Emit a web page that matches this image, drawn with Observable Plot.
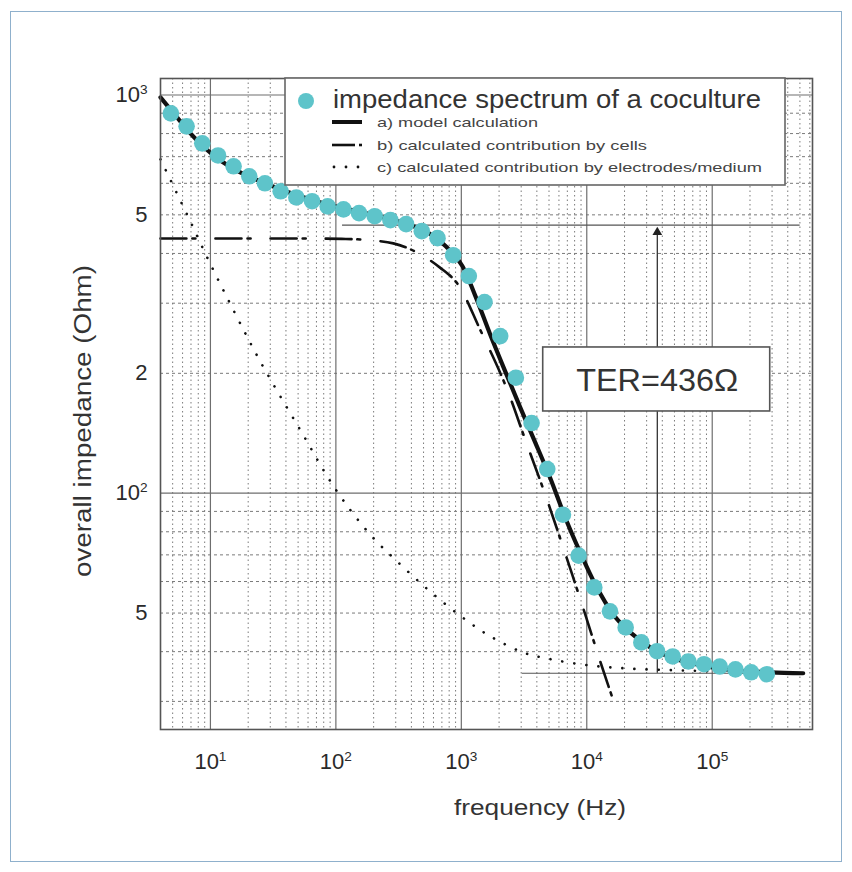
<!DOCTYPE html>
<html><head><meta charset="utf-8">
<script src="https://cdn.jsdelivr.net/npm/d3@7"></script>
<script src="https://cdn.jsdelivr.net/npm/@observablehq/plot@0.6"></script>
<style>
html,body{margin:0;padding:0;background:#fff;}
#wrap{position:relative;width:852px;height:872px;overflow:hidden;background:#fff;}
#chart{position:absolute;left:0;top:0;}
#border{position:absolute;left:10px;top:11px;width:830px;height:849px;border:1px solid #8fb0cc;pointer-events:none;}
</style></head><body>
<div id="wrap"><div id="chart"></div><div id="border"></div></div>
<script>
// measured impedance spectrum (cyan dots)
const measFreq = [4.84, 6.46, 8.61, 11.5, 15.3, 20.4, 27.2, 36.3, 48.4, 64.6, 86.1, 115, 153, 204, 272, 363, 484, 646, 861, 1148, 1531, 2042, 2723, 3631, 4842, 6457, 8610, 11480, 15310, 20420, 27230, 36310, 48420, 64570, 86100, 114800, 153100, 204200, 272300];
const measZ = [899, 834, 756, 705, 662, 625, 600, 573, 553, 541, 525, 516, 505, 496, 485, 474, 455, 437, 396, 351, 302, 248, 195, 150, 115, 88.3, 69.7, 58.0, 50.5, 46.0, 42.2, 40.1, 38.9, 37.8, 37.2, 36.7, 36.1, 35.5, 35.1];
// a) model calculation
const modelFreq = [4.0, 5.26, 6.93, 9.12, 12.0, 17.3, 25.0, 36.1, 52.1, 90.4, 157, 272, 392, 517, 680, 848, 1019, 1293, 1702, 2242, 2952, 3887, 5120, 6740, 8880, 11690, 16270, 22220, 32060, 46270, 80230, 147000, 290000, 531000];
const modelZ = [986, 889, 801, 734, 685, 639, 607, 580, 557, 529, 508, 488, 471, 455, 429, 401, 372, 313, 250, 202, 164, 134, 109, 86.8, 70.9, 59.0, 49.6, 44.7, 41.0, 38.7, 37.0, 35.9, 35.5, 35.3];
// b) contribution by cells
const cellFreq = [4, 60, 120, 166, 287, 446, 680, 929, 1416, 2243, 3239, 4670, 6740, 9720, 12800, 17500];
const cellZ = [436, 436, 435, 433, 424, 402, 368, 336, 257, 187, 136, 99.1, 70.5, 49.6, 37.8, 28.2];
// c) contribution by electrodes/medium
const elecFreq = [4.0, 6.32, 10, 15.8, 25.0, 52.1, 100, 188, 327, 566, 1000, 1702, 3120, 5120, 10000, 20800, 55000, 167000, 500000];
const elecZ = [689, 511, 376, 282, 214, 144, 102, 78.7, 66.2, 56.6, 49.0, 43.7, 39.8, 38.3, 37.0, 36.3, 35.9, 35.6, 35.4];
// ticks
const xTickValues = [10, 100, 1000, 10000, 100000];
const xTickLabels = ["10^1", "10^2", "10^3", "10^4", "10^5"];
const yTickValues = [1000, 500, 200, 100, 50];
const yTickLabels = ["10^3", "5", "2", "10^2", "5"];
// TER annotation
const terHighZ = 471, terLowZ = 35.3;
const terHighRange = [113, 502000];
const terLowRange = [3060, 531000];
const terArrowFreq = 36500, terArrowTop = 452;
const terBoxFreq = 36100, terBoxZ = 193;
const terLabel = "TER=436\u03A9";
const legendLabels = ["impedance spectrum of a coculture", "a) model calculation", "b) calculated contribution by cells", "c) calculated contribution by electrodes/medium"];

const xDomain = [4, 630000], yDomain = [25.5, 1100];
const xDecades = [10, 100, 1000, 10000, 100000];
const yDecades = [100, 1000];
const xMinor = [], yMinor = [];
for (let e = 0; e <= 5; e++) for (let m = 2; m <= 9; m++) { const v = m * 10 ** e; if (v > xDomain[0] - 1e-9 && v < xDomain[1]) xMinor.push(v); }
for (let e = 1; e <= 3; e++) for (let m = 2; m <= 9; m++) { const v = m * 10 ** e; if (v > yDomain[0] && v < yDomain[1]) yMinor.push(v); }

const meas = measFreq.map((f, i) => ({f, z: measZ[i]}));
const model = modelFreq.map((f, i) => ({f, z: modelZ[i]}));
const cell = cellFreq.map((f, i) => ({f, z: cellZ[i]}));
const elec = elecFreq.map((f, i) => ({f, z: elecZ[i]}));

const cyan = "#5ec4ca";
const plot = Plot.plot({
  width: 852, height: 872,
  marginLeft: 160, marginRight: 40, marginTop: 78, marginBottom: 143,
  x: {type: "log", domain: xDomain},
  y: {type: "log", domain: yDomain},
  style: {fontFamily: "'Liberation Sans', Arial, sans-serif", fontSize: "22px", color: "#2a2a2a", background: "white"},
  marks: [
    Plot.ruleX(xMinor, {stroke: "#7a7a7a", strokeWidth: 1, strokeDasharray: "1.5,3"}),
    Plot.ruleY(yMinor, {stroke: "#7a7a7a", strokeWidth: 1, strokeDasharray: "3,3"}),
    Plot.ruleX(xDecades, {stroke: "#6e6e6e", strokeWidth: 1.2}),
    Plot.ruleY(yDecades, {stroke: "#6e6e6e", strokeWidth: 1.2}),
    Plot.axisX({ticks: xTickValues, tickFormat: d => xTickLabels[xTickValues.indexOf(d)], tickSize: 0, tickPadding: 24, label: null}),
    Plot.axisY({ticks: yTickValues, tickFormat: d => yTickLabels[yTickValues.indexOf(d)], tickSize: 0, tickPadding: 13, label: null}),
    Plot.ruleY([{z: terHighZ, f1: terHighRange[0], f2: terHighRange[1]}], {y: "z", x1: "f1", x2: "f2", stroke: "#555", strokeWidth: 1.2}),
    Plot.ruleY([{z: terLowZ, f1: terLowRange[0], f2: terLowRange[1]}], {y: "z", x1: "f1", x2: "f2", stroke: "#555", strokeWidth: 1.2}),
    Plot.ruleX([{f: terArrowFreq, z1: terLowZ, z2: terArrowTop}], {x: "f", y1: "z1", y2: "z2", stroke: "#333", strokeWidth: 1.3}),
    Plot.dot([{f: terArrowFreq, z: terArrowTop}], {x: "f", y: "z", symbol: "triangle", r: 3.6, fill: "#222", stroke: "none"}),
    Plot.line(elec, {x: "f", y: "z", stroke: "#111", strokeWidth: 2.6, strokeDasharray: "0.1,12", strokeLinecap: "round", curve: "catmull-rom"}),
    Plot.line(cell, {x: "f", y: "z", stroke: "#111", strokeWidth: 2.6, strokeDasharray: "26,6,3,20", curve: "catmull-rom"}),
    Plot.line(model, {x: "f", y: "z", stroke: "#111", strokeWidth: 4.2, curve: "catmull-rom"}),
    Plot.dot(meas, {x: "f", y: "z", r: 8.3, fill: cyan, stroke: "none"}),
    Plot.frame({stroke: "#555", strokeWidth: 1.6})
  ]
});
document.getElementById("chart").appendChild(plot);

const svg = d3.select(plot);
// superscript tick labels
svg.selectAll("text").each(function () {
  const m = /^10\^(\d)$/.exec(this.textContent);
  if (m) {
    const t = d3.select(this);
    t.text(null);
    t.append("tspan").text("10");
    t.append("tspan").attr("dy", "-0.6em").attr("font-size", "0.62em").text(m[1]);
  }
});

const sx = plot.scale("x"), sy = plot.scale("y");
const g = svg.append("g").attr("font-family", "'Liberation Sans', Arial, sans-serif").attr("fill", "#333").attr("text-anchor", "start");

// legend
g.append("rect").attr("x", 285).attr("y", 78).attr("width", 500).attr("height", 107)
  .attr("fill", "white").attr("stroke", "#666").attr("stroke-width", 1.6);
g.append("circle").attr("cx", 306).attr("cy", 101).attr("r", 8).attr("fill", cyan);
g.append("text").attr("x", 333).attr("y", 108).attr("font-size", 25).attr("textLength", 428)
  .attr("text-anchor", "start").attr("lengthAdjust", "spacingAndGlyphs").text(legendLabels[0]);
g.append("line").attr("x1", 332).attr("x2", 362).attr("y1", 122).attr("y2", 122).attr("stroke", "#111").attr("stroke-width", 4);
g.append("text").attr("x", 377).attr("y", 127).attr("font-size", 13.5).attr("textLength", 161)
  .attr("text-anchor", "start").attr("lengthAdjust", "spacingAndGlyphs").attr("fill", "#444").text(legendLabels[1]);
g.append("line").attr("x1", 332).attr("x2", 355).attr("y1", 145).attr("y2", 145).attr("stroke", "#111").attr("stroke-width", 2.6);
g.append("line").attr("x1", 359).attr("x2", 362).attr("y1", 145).attr("y2", 145).attr("stroke", "#111").attr("stroke-width", 2.6);
g.append("text").attr("x", 377).attr("y", 150).attr("font-size", 13.5).attr("textLength", 270)
  .attr("text-anchor", "start").attr("lengthAdjust", "spacingAndGlyphs").attr("fill", "#444").text(legendLabels[2]);
[334, 346, 358].forEach(cx => g.append("circle").attr("cx", cx).attr("cy", 167).attr("r", 1.4).attr("fill", "#111"));
g.append("text").attr("x", 377).attr("y", 172).attr("font-size", 13.5).attr("textLength", 385)
  .attr("text-anchor", "start").attr("lengthAdjust", "spacingAndGlyphs").attr("fill", "#444").text(legendLabels[3]);

// TER box
const bx = sx.apply(terBoxFreq), by = sy.apply(terBoxZ);
g.append("rect").attr("x", bx - 113.5).attr("y", by - 32).attr("width", 227).attr("height", 64)
  .attr("fill", "white").attr("stroke", "#555").attr("stroke-width", 1.6);
g.append("text").attr("x", bx + 1).attr("y", by + 12).attr("text-anchor", "middle").attr("font-size", 32)
  .attr("textLength", 162).attr("lengthAdjust", "spacingAndGlyphs").text(terLabel);

// axis titles
g.append("text").attr("transform", "translate(91,421) rotate(-90)").attr("text-anchor", "middle")
  .attr("font-size", 23).attr("textLength", 312).attr("lengthAdjust", "spacingAndGlyphs").text("overall impedance (Ohm)");
g.append("text").attr("x", 540).attr("y", 815).attr("text-anchor", "middle")
  .attr("font-size", 22).attr("textLength", 172).attr("lengthAdjust", "spacingAndGlyphs").text("frequency (Hz)");
</script>
</body></html>
